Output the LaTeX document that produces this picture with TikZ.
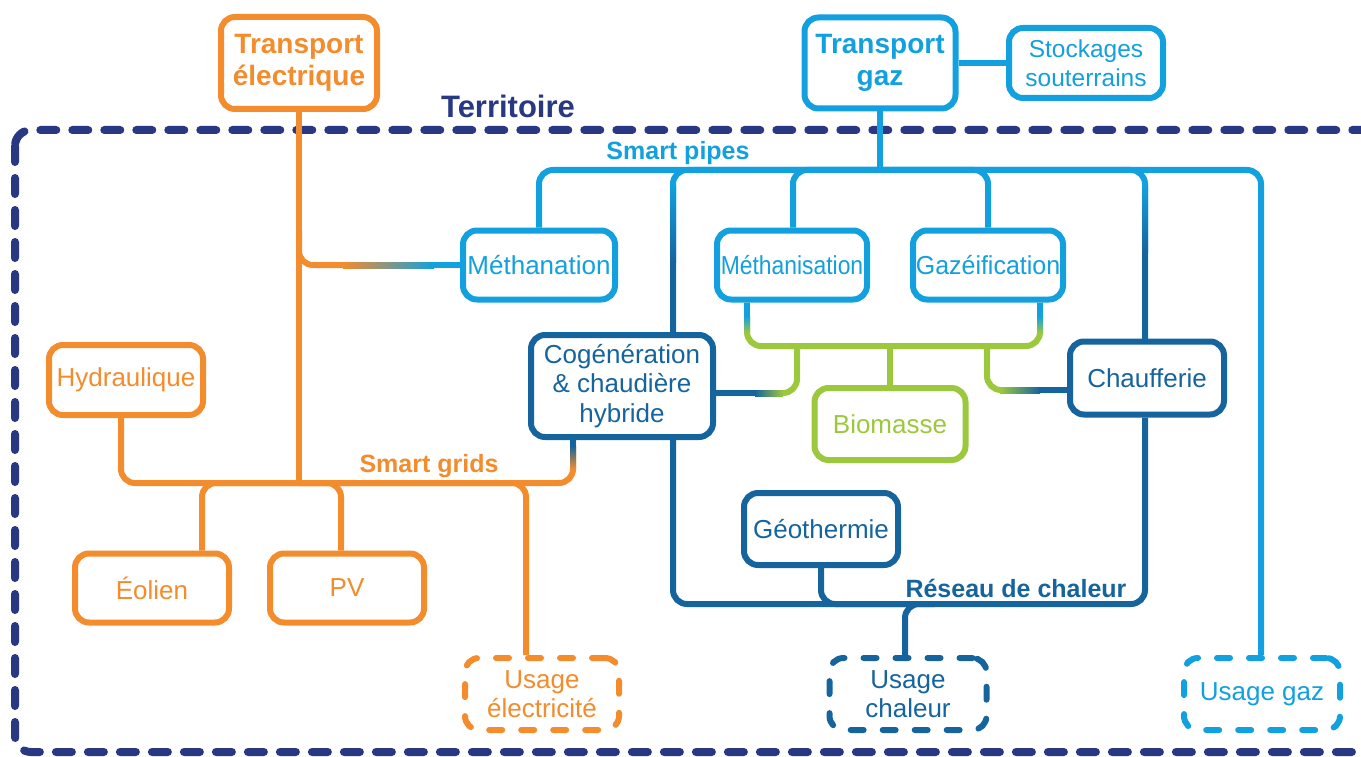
\documentclass[tikz,border=0pt]{standalone}
\usepackage{fontspec}
\usepackage{graphicx}
\setmainfont{Liberation Sans}
\usetikzlibrary{backgrounds}
\definecolor{eor}{RGB}{243,140,45}
\definecolor{elb}{RGB}{18,160,222}
\definecolor{edb}{RGB}{22,100,158}
\definecolor{egr}{RGB}{156,200,62}
\definecolor{enavy}{RGB}{40,56,130}
\begin{document}
\begin{tikzpicture}[x=1pt,y=-1pt,
  box/.style={draw, line width=6pt, rounded corners=14pt, inner sep=0pt, align=center,
    font=\fontsize{26}{29.5}\selectfont, fill=white},
  ubox/.style={box, dash pattern=on 13pt off 19pt, line cap=round},
  tbox/.style={box, font=\bfseries\fontsize{28}{32.5}\selectfont},
  wire/.style={line width=6pt, rounded corners=14pt},
  thick6/.style={line width=6pt},
  lab/.style={font=\bfseries\fontsize{25}{28}\selectfont, inner sep=0pt}]
\useasboundingbox (0,0) rectangle (1361,757);

% nodes
\node[tbox, draw=eor, text=eor, minimum width=156, minimum height=92] (telec) at (299,63) {Transport\\électrique};
\node[tbox, draw=elb, text=elb, minimum width=151, minimum height=91] (tgaz) at (880,63) {Transport\\gaz};
\node[box, draw=elb, text=elb, minimum width=154, minimum height=70, font=\fontsize{24.5}{28.5}\selectfont] (stock) at (1086,63) {Stockages\\souterrains};
\node[box, draw=elb, text=elb, minimum width=152, minimum height=69] (methanation) at (539,265) {Méthanation};
\node[box, draw=elb, text=elb, minimum width=150, minimum height=69] (methanisation) at (792,265) {\scalebox{0.88}[1]{Méthanisation}};
\node[box, draw=elb, text=elb, minimum width=150, minimum height=69] (gazeif) at (988,265) {\scalebox{0.96}[1]{Gazéification}};
\node[box, draw=edb, text=edb, minimum width=182, minimum height=102] (cogen) at (622,386) {Cogénération\\\& chaudière\\hybride};
\node[box, draw=edb, text=edb, minimum width=154, minimum height=73] (chauff) at (1147,378) {Chaufferie};
\node[box, draw=egr, text=egr, minimum width=151, minimum height=72] (biomasse) at (890,424) {Biomasse};
\node[box, draw=eor, text=eor, minimum width=154, minimum height=70] (hydrau) at (126,380) {Hydraulique};
\node[box, draw=eor, text=eor, minimum width=154, minimum height=69] (eolien) at (152,588) {Éolien};
\node[box, draw=eor, text=eor, minimum width=154, minimum height=69] (pv) at (347,588) {PV};
\node[ubox, draw=eor, text=eor, minimum width=154, minimum height=72] (useelec) at (542,694) {Usage\\électricité};
\node[box, draw=edb, text=edb, minimum width=154, minimum height=72] (geo) at (821,529) {Géothermie};
\node[ubox, draw=edb, text=edb, minimum width=157, minimum height=72] (usechal) at (908,694) {Usage\\chaleur};
\node[ubox, draw=elb, text=elb, minimum width=156, minimum height=72] (usegaz) at (1262,694) {Usage gaz};

% labels
\node[lab, font=\bfseries\fontsize{31}{33}\selectfont, text=enavy] (terr) at (508,106) {Territoire};
\node[lab, text=elb] (splab) at (678,153) {Smart pipes};
\node[lab, text=eor] (sglab) at (429,466) {Smart grids};
\node[lab, text=edb] (rclab) at (1016,588) {Réseau de chaleur};

\begin{scope}[on background layer]
% territory
\draw[enavy, line width=8pt, dash pattern=on 16pt off 16pt, line cap=round, rounded corners=16pt]
  (15,130) rectangle (1400,752);

% coordinates
\coordinate (sgbus) at (299,483);
\coordinate (mj) at (299,230);
\coordinate (xhyd) at (121,0);
\coordinate (xeol) at (202,0);
\coordinate (xpv) at (341,0);
\coordinate (xue) at (526,0);
\coordinate (xcg) at (573,0);
\coordinate (spbus) at (880,170);
\coordinate (xcs) at (673,0);
\coordinate (xmzt) at (793,0);
\coordinate (xgzt) at (988,0);
\coordinate (xch) at (1145,0);
\coordinate (xug) at (1261,0);
\coordinate (gbus) at (890,346);
\coordinate (xmzb) at (747,0);
\coordinate (xgzb) at (1040,0);
\coordinate (gl) at (797,346);
\coordinate (gr) at (987,346);
\coordinate (hbus) at (905,604);
\coordinate (hr) at (935,604);

% orange (smart grids)
\draw[wire, eor] (telec.south) -- (sgbus);
\draw[wire, eor] (mj) |- (methanation.west);
\draw[thick6, elb] (434,265) -- (methanation.west);
\shade[left color=eor, right color=elb] (343,262) rectangle (434,268);
\draw[wire, eor] (hydrau.south -| xhyd) |- (sgbus);
\draw[wire, eor] (eolien.north -| xeol) |- (sgbus);
\draw[wire, eor] (pv.north -| xpv) |- (sgbus);
\draw[wire, eor] (useelec.north -| xue) |- (sgbus);
\draw[wire, eor] (cogen.south -| xcg) |- (sgbus);
\draw[thick6, edb] (cogen.south -| xcg) -- (573,446);
\shade[top color=edb, bottom color=eor] (570,446) rectangle (576,469);

% light blue (smart pipes)
\draw[wire, elb] (tgaz.south) -- (spbus);
\draw[wire, elb] (tgaz.east) -- (stock.west);
\draw[wire, elb] (methanation.north) |- (spbus);
\draw[wire, elb] (cogen.north -| xcs) |- (spbus);
\shade[top color=elb, bottom color=edb] (670,186) rectangle (676,262);
\draw[thick6, edb] (673,261) -- (cogen.north -| xcs);
\draw[wire, elb] (methanisation.north -| xmzt) |- (spbus);
\draw[wire, elb] (gazeif.north -| xgzt) |- (spbus);
\draw[wire, elb] (chauff.north -| xch) |- (spbus);
\shade[top color=elb, bottom color=edb] (1142,186) rectangle (1148,252);
\draw[thick6, edb] (1145,251) -- (chauff.north -| xch);
\draw[wire, elb] (usegaz.north -| xug) |- (spbus);

% green (biomass)
\draw[wire, egr] (methanisation.south -| xmzb) |- (gbus);
\draw[thick6, elb] (methanisation.south -| xmzb) -- (747,317);
\shade[top color=elb, bottom color=egr] (744,316) rectangle (750,333);
\draw[wire, egr] (gazeif.south -| xgzb) |- (gbus);
\draw[thick6, elb] (gazeif.south -| xgzb) -- (1040,317);
\shade[top color=elb, bottom color=egr] (1037,316) rectangle (1043,333);
\draw[wire, egr] (gbus) -- (biomasse.north);
\draw[wire, egr] (gl) |- ([yshift=-7pt]cogen.east);
\draw[thick6, edb] ([yshift=-7pt]cogen.east) -- (756,393);
\shade[left color=edb, right color=egr] (755,390) rectangle (783,396);
\draw[wire, egr] (gr) |- ([yshift=-12pt]chauff.west);
\shade[left color=egr, right color=edb] (1000,387) rectangle (1040,393);
\draw[thick6, edb] (1039,390) -- ([yshift=-12pt]chauff.west);

% dark blue (heat network)
\draw[wire, edb] (cogen.south -| xcs) |- (hbus);
\draw[wire, edb] (geo.south) |- (hbus);
\draw[wire, edb] (chauff.south -| xch) |- (hbus);
\draw[wire, edb] (usechal.north -| hbus) |- (hr);
\end{scope}
\end{tikzpicture}
\end{document}
